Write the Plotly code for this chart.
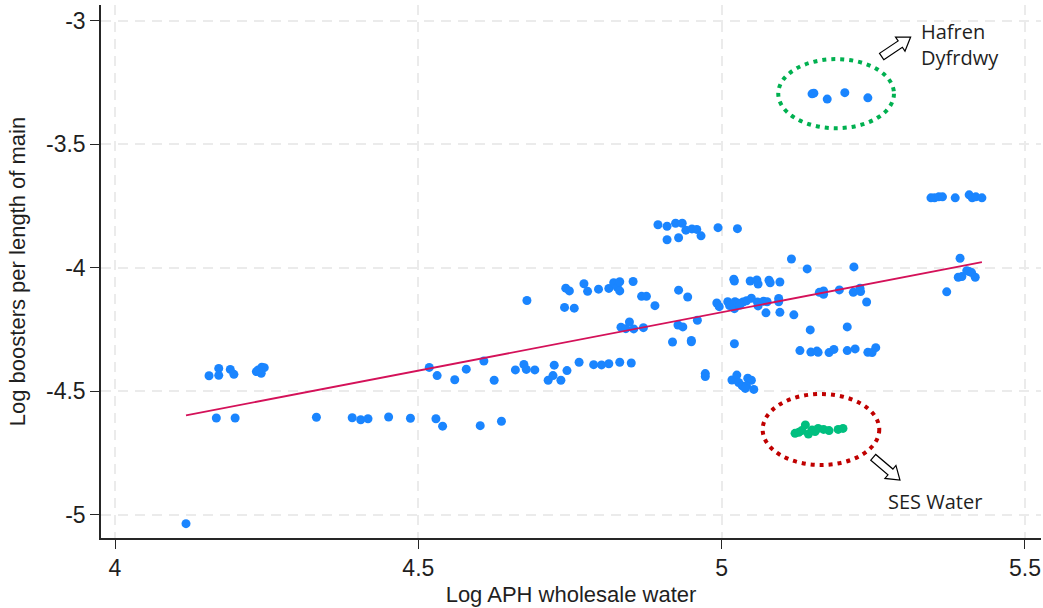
import numpy as np
import plotly.graph_objects as go

# ---- data: log boosters per length of main vs log APH wholesale water ----
other_x = [
    4.117,
    4.155, 4.171, 4.171, 4.190, 4.196, 4.233, 4.242, 4.241, 4.246, 4.236,
    4.167, 4.198, 4.332, 4.391, 4.405, 4.417, 4.451, 4.487, 4.529, 4.540, 4.602, 4.637,
    4.518, 4.531, 4.560, 4.579, 4.608, 4.625, 4.660, 4.674, 4.678, 4.692, 4.714, 4.722,
    4.724, 4.735, 4.745, 4.765, 4.789, 4.802, 4.814, 4.832, 4.851,
    4.679, 4.741, 4.757, 4.743, 4.749, 4.773, 4.779, 4.797, 4.814, 4.822, 4.828, 4.832,
    4.832, 4.854, 4.868, 4.876, 4.890,
    4.834, 4.848, 4.842, 4.855, 4.871, 4.928, 4.936, 4.960, 4.919, 4.950, 4.950, 4.929, 4.944,
    4.895, 4.910, 4.924, 4.935, 4.941, 4.951, 4.959, 4.966, 4.910, 4.929, 4.994, 5.026,
    4.973, 4.973, 4.992, 4.996, 5.020, 5.021, 5.021,
    5.010, 5.013, 5.022, 5.021, 5.027, 5.035, 5.041, 5.049, 5.059, 5.060, 5.069, 5.075,
    5.094, 5.094, 5.030,
    5.047, 5.058, 5.060, 5.078, 5.080, 5.096,
    5.073, 5.096, 5.119, 5.115, 5.141, 5.146,
    5.129, 5.147, 5.157, 5.159, 5.177, 5.185, 5.207, 5.220, 5.241, 5.248, 5.254,
    5.161, 5.168, 5.168, 5.194, 5.217, 5.228, 5.229, 5.239, 5.207, 5.218,
    5.017, 5.025, 5.028, 5.034, 5.043, 5.049, 5.041, 5.053, 5.039,
    5.393, 5.390, 5.396, 5.404, 5.408, 5.412, 5.418, 5.371,
    5.345, 5.351, 5.358, 5.364, 5.385, 5.408, 5.413, 5.419, 5.429,
    5.149, 5.152, 5.174, 5.203, 5.241,
]
other_y = [
    -5.037,
    -4.438, -4.408, -4.436, -4.412, -4.432, -4.421, -4.403, -4.428, -4.405, -4.414,
    -4.609, -4.609, -4.606, -4.608, -4.616, -4.612, -4.605, -4.610, -4.612, -4.642, -4.640, -4.622,
    -4.404, -4.437, -4.454, -4.411, -4.378, -4.456, -4.414, -4.392, -4.412, -4.414, -4.456, -4.437,
    -4.395, -4.456, -4.417, -4.383, -4.393, -4.394, -4.389, -4.383, -4.386,
    -4.133, -4.161, -4.164, -4.083, -4.094, -4.065, -4.096, -4.087, -4.084, -4.061, -4.080, -4.057,
    -4.094, -4.056, -4.116, -4.116, -4.154,
    -4.241, -4.220, -4.247, -4.248, -4.243, -4.232, -4.240, -4.213, -4.301, -4.295, -4.300, -4.091, -4.119,
    -3.826, -3.832, -3.820, -3.820, -3.848, -3.843, -3.845, -3.871, -3.887, -3.879, -3.838, -3.842,
    -4.429, -4.441, -4.143, -4.158, -4.047, -4.054, -4.308,
    -4.138, -4.153, -4.138, -4.166, -4.144, -4.139, -4.134, -4.124, -4.139, -4.155, -4.136, -4.138,
    -4.125, -4.138, -4.151,
    -4.054, -4.050, -4.066, -4.051, -4.061, -4.058,
    -4.183, -4.181, -4.191, -3.965, -4.005, -4.252,
    -4.336, -4.342, -4.338, -4.343, -4.344, -4.331, -4.336, -4.329, -4.343, -4.344, -4.324,
    -4.100, -4.094, -4.108, -4.090, -4.100, -4.083, -4.097, -4.139, -4.240, -3.997,
    -4.455, -4.435, -4.465, -4.479, -4.448, -4.456, -4.479, -4.493, -4.489,
    -3.962, -4.039, -4.036, -4.012, -4.016, -4.020, -4.039, -4.098,
    -3.717, -3.717, -3.713, -3.713, -3.717, -3.705, -3.717, -3.713, -3.717,
    -3.296, -3.293, -3.317, -3.291, -3.312,
]

# SES Water observations
ses_x = [5.121, 5.127, 5.132, 5.138, 5.143, 5.149, 5.154, 5.159, 5.168, 5.177, 5.192, 5.200]
ses_y = [-4.671, -4.667, -4.660, -4.637, -4.674, -4.658, -4.664, -4.651, -4.655, -4.660, -4.655, -4.651]

# fitted linear trend
fit_x = [4.117, 5.429]
fit_y = [-4.598, -3.978]

x_ticks = [4, 4.5, 5, 5.5]
y_ticks = [-3, -3.5, -4, -4.5, -5]

# ---- layout geometry ----
W, H = 1043, 608
ML, MR, MT, MB = 101, 2, 5, 70
XR = [3.9769, 5.5264]
YR = [-5.095, -2.936]
PW, PH = W - ML - MR, H - MT - MB


def to_px(x, y):
    return (ML + (x - XR[0]) / (XR[1] - XR[0]) * PW,
            MT + (YR[1] - y) / (YR[1] - YR[0]) * PH)


def to_data(px, py):
    return (XR[0] + (px - ML) / PW * (XR[1] - XR[0]),
            YR[1] - (py - MT) / PH * (YR[1] - YR[0]))


def block_arrow(tail, head, shaft=3.8, head_w=8.5, head_len=12.5):
    """Outline of a hollow block arrow, built in screen space."""
    x0, y0 = to_px(*tail)
    x1, y1 = to_px(*head)
    d = np.array([x1 - x0, y1 - y0])
    L = np.hypot(*d)
    u = d / L
    n = np.array([-u[1], u[0]])
    p0 = np.array([x0, y0])
    b = p0 + u * (L - head_len)
    pts = [p0 + n * shaft, b + n * shaft, b + n * head_w, p0 + u * L,
           b - n * head_w, b - n * shaft, p0 - n * shaft]
    pts = [to_data(*p) for p in pts]
    return "M " + " L ".join(f"{px:.5f},{py:.5f}" for px, py in pts) + " Z"


BLUE = "rgb(26,133,255)"
RED = "rgb(212,17,89)"
GREEN = "rgb(0,191,127)"
INK = "#1f1f1f"

fig = go.Figure()
fig.add_trace(go.Scatter(x=other_x, y=other_y, mode="markers",
                         marker=dict(color=BLUE, size=9, line=dict(width=0)),
                         showlegend=False, hoverinfo="skip"))
fig.add_trace(go.Scatter(x=ses_x, y=ses_y, mode="markers",
                         marker=dict(color=GREEN, size=9, line=dict(width=0)),
                         showlegend=False, hoverinfo="skip"))
fig.add_trace(go.Scatter(x=fit_x, y=fit_y, mode="lines",
                         line=dict(color=RED, width=1.8),
                         showlegend=False, hoverinfo="skip"))

# highlight ellipses
fig.add_shape(type="circle", xref="x", yref="y", x0=5.0933, x1=5.2840, y0=-3.435, y1=-3.155,
              line=dict(color="#00b050", width=4, dash="4px,5px"))
fig.add_shape(type="circle", xref="x", yref="y", x0=5.0676, x1=5.2598, y0=-4.7994, y1=-4.5117,
              line=dict(color="#c00000", width=4, dash="4px,5px"))

# hollow arrows pointing to the labels
fig.add_shape(type="path", xref="x", yref="y",
              path=block_arrow((5.2637, -3.1447), (5.3115, -3.066)),
              line=dict(color="black", width=1.2), fillcolor="white")
fig.add_shape(type="path", xref="x", yref="y",
              path=block_arrow((5.2499, -4.7682), (5.2939, -4.8602)),
              line=dict(color="black", width=1.2), fillcolor="white")

fig.add_annotation(x=5.3252, y=-3.097, xref="x", yref="y", text="Hafren<br>Dyfrdwy",
                   showarrow=False, xanchor="left", yanchor="middle", align="left",
                   font=dict(family="Open Sans", size=20, color=INK))
fig.add_annotation(x=5.2703, y=-4.948, xref="x", yref="y", text="SES Water",
                   showarrow=False, xanchor="left", yanchor="middle", align="left",
                   font=dict(family="Open Sans", size=20, color=INK))

grid = dict(showgrid=True, gridcolor="#ebebeb", gridwidth=1.5, griddash="10px,7px",
            zeroline=False, showline=True, linecolor="#262626", linewidth=1.5,
            ticks="outside", ticklen=9, tickwidth=1.2, tickcolor="#262626",
            automargin=False,
            tickfont=dict(family="Liberation Sans, Arial", size=23, color=INK),
            title_font=dict(family="Liberation Sans, Arial", size=22, color=INK))

fig.update_xaxes(range=XR, tickvals=x_ticks, ticktext=[f"{v:g}" for v in x_ticks],
                 title_text="Log APH wholesale water", title_standoff=6, **grid)
fig.update_yaxes(range=YR, tickvals=y_ticks, ticktext=[f"{v:g}" for v in y_ticks],
                 title_text="Log boosters per length of main", title_standoff=14, **grid)

fig.update_layout(width=W, height=H, margin=dict(l=ML, r=MR, t=MT, b=MB),
                  plot_bgcolor="white", paper_bgcolor="white")

fig.write_html("out.html")
